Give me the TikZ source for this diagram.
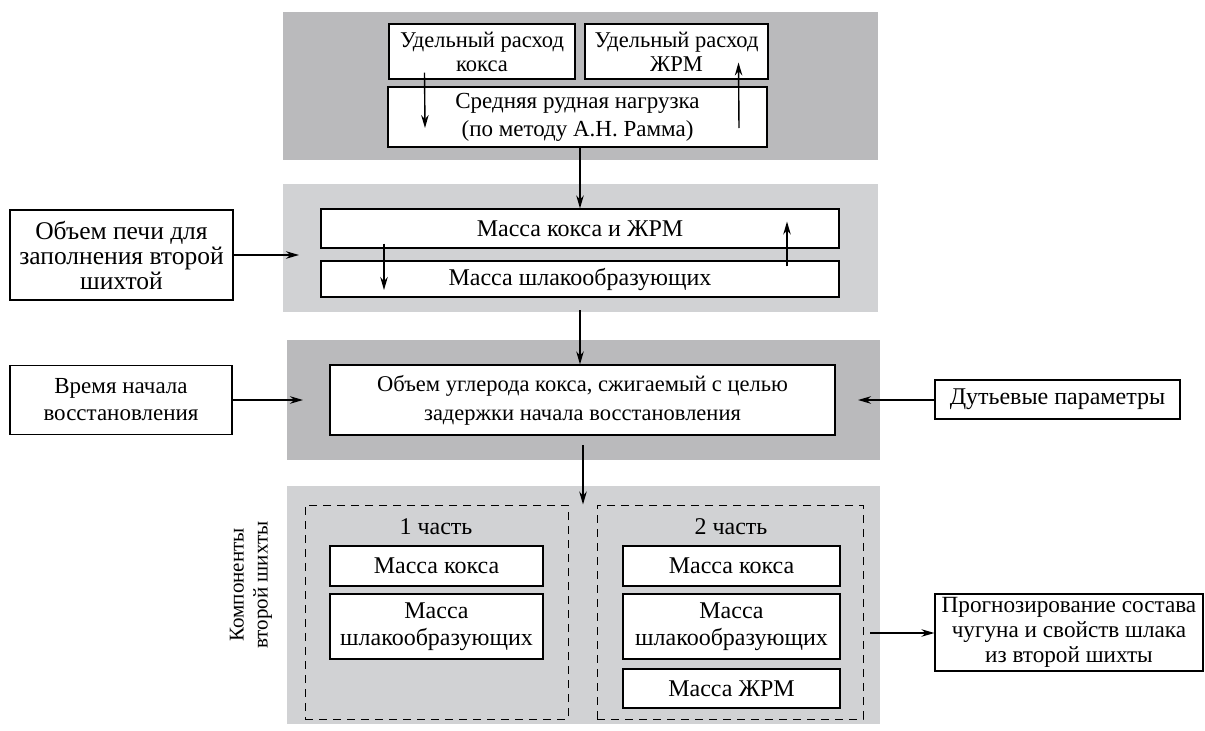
\documentclass[tikz,border=0pt]{standalone}
\usepackage{fontspec}
\setmainfont{Liberation Serif}
\usetikzlibrary{arrows.meta}
\definecolor{darkpanel}{RGB}{186,186,188}
\definecolor{lightpanel}{RGB}{209,210,212}
\tikzset{
  box/.style={draw=black, line width=1.2pt, fill=white, inner sep=0pt, align=center,
    font=\fontsize{24}{27}\selectfont},
  fs/.style 2 args={font=\fontsize{#1}{#2}\selectfont},
  arr/.style={line width=1.4pt, -{Stealth[length=13pt,width=7.5pt]}},
  dbox/.style={draw=black, line width=1pt, dash pattern=on 8pt off 6pt},
  lbl/.style={inner sep=0pt, font=\fontsize{24}{26}\selectfont, align=center},
}
\begin{document}
\begin{tikzpicture}[x=1pt,y=-1pt]
\useasboundingbox[fill=white] (0,0) rectangle (1205,731);
% panels
\fill[darkpanel] (283,12) rectangle (878,160);
\fill[lightpanel] (283,184) rectangle (878,312);
\fill[darkpanel] (287,340) rectangle (880,460);
\fill[lightpanel] (287,486) rectangle (880,724);
% panel 1
\node[box, fs={22.5}{24}, minimum width=186pt, minimum height=55pt] (A) at (482,51.5) {Удельный расход\\кокса};
\node[box, fs={22.5}{24}, minimum width=183pt, minimum height=55pt] (B) at (676.5,51.5) {Удельный расход\\ЖРМ};
\node[box, fs={23}{28}, minimum width=379pt, minimum height=60pt] (C) at (577.5,117) {Средняя рудная нагрузка\\(по методу А.Н. Рамма)};
\draw[arr] ([shift={(-57.5,-7)}]A.south) -- ([shift={(-152.5,11)}]C.center);
\draw[arr] ([shift={(161.5,11)}]C.center) -- ([shift={(62,11)}]B.center);
% panel 2
\node[box, minimum width=518pt, minimum height=39pt] (D) at (580,228.5) {Масса кокса и ЖРМ};
\node[box, minimum width=518pt, minimum height=36pt] (E) at (580,279) {Масса шлакообразующих};
\draw[arr] (C.south -| D.north) -- (D.north);
\draw[arr] ([shift={(-196,-5)}]D.south) -- ([shift={(-196,11)}]E.center);
\draw[arr] ([shift={(207,6)}]E.north) -- ([shift={(207,-7)}]D.center);
\node[box, fs={25.5}{25}, minimum width=223pt, minimum height=90pt] (F) at (121.5,255) {Объем печи для\\заполнения второй\\шихтой};
\coordinate (Fend) at (299,255);
\draw[arr] (F.east |- Fend) -- (Fend);
% panel 3
\node[box, fs={22.5}{29}, minimum width=505pt, minimum height=70pt] (G) at (582.5,400) {Объем углерода кокса, сжигаемый с целью\\задержки начала восстановления};
\coordinate (p2bot) at (580,310);
\draw[arr] (p2bot) -- (p2bot |- G.north);
\node[box, fs={23}{27}, minimum width=222pt, minimum height=69pt] (H) at (121,400) {Время начала\\восстановления};
\coordinate (Hend) at (303,400);
\draw[arr] (H.east |- Hend) -- (Hend);
\node[box, minimum width=245pt, minimum height=39pt] (I) at (1057.5,399.5) {Дутьевые параметры};
\coordinate (Iend) at (858,400);
\draw[arr] (I.west |- Iend) -- (Iend);
% panel 4
\node[dbox, minimum width=263pt, minimum height=214pt, inner sep=0pt] (P1) at (436.5,612) {};
\node[dbox, minimum width=266pt, minimum height=214pt, inner sep=0pt] (P2) at (730,612) {};
\coordinate (p3bot) at (583,445);
\draw[arr] (p3bot) -- (p3bot |- P1.north);
\node[lbl, anchor=base] (t1) at (436,534) {1 часть};
\node[lbl, anchor=base] (t2) at (731,534) {2 часть};
\node[box, minimum width=213pt, minimum height=40pt] (L1) at (436.5,566) {Масса кокса};
\node[box, minimum width=213pt, minimum height=65pt] (L2) at (436.5,626.5) {Масса\\шлакообразующих};
\node[box, minimum width=217pt, minimum height=40pt] (R1) at (731.5,566) {Масса кокса};
\node[box, minimum width=217pt, minimum height=65pt] (R2) at (731.5,626.5) {Масса\\шлакообразующих};
\node[box, minimum width=217pt, minimum height=39pt] (R3) at (731.5,688.5) {Масса ЖРМ};
\node[lbl, fs={21}{24}, rotate=90] (K) at (251,585) {Компоненты\\второй шихты};
\node[box, fs={23.2}{25}, minimum width=268pt, minimum height=77pt] (J) at (1069,632.5) {Прогнозирование состава\\чугуна и свойств шлака\\из второй шихты};
\coordinate (Jstart) at (870,633);
\draw[arr] (Jstart) -- (J.west |- Jstart);
\end{tikzpicture}
\end{document}
